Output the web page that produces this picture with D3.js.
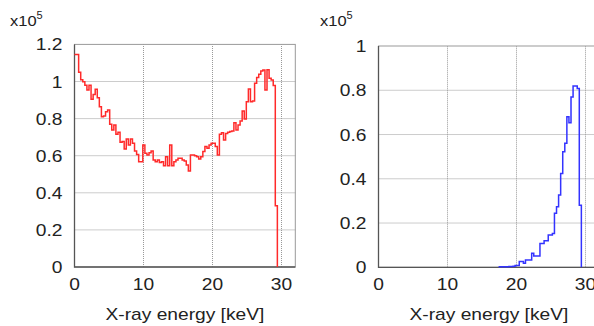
<!DOCTYPE html>
<html>
<head>
<meta charset="utf-8">
<script src="https://d3js.org/d3.v7.min.js"></script>
<style>
  body { margin: 0; background: #fff; }
  text { font-family: "Liberation Sans", Arial, sans-serif; fill: #222; }
</style>
</head>
<body>
<div id="chart"></div>
<script>
// energy bins (keV) and counts in units of 1e5
const binWidth = 0.3;
const redStart = 0;
const redCounts = [1.146, 1.146, 1.05, 1.01, 0.999, 0.98, 0.954, 0.98, 0.904, 0.93,
  0.958, 0.913, 0.864, 0.81, 0.814, 0.837, 0.846, 0.769, 0.739, 0.766,
  0.715, 0.726, 0.672, 0.676, 0.636, 0.69, 0.658, 0.69, 0.667, 0.625,
  0.607, 0.568, 0.568, 0.658, 0.613, 0.604, 0.616, 0.625, 0.577, 0.568,
  0.577, 0.564, 0.568, 0.546, 0.595, 0.546, 0.658, 0.546, 0.568, 0.577,
  0.586, 0.586, 0.577, 0.571, 0.55, 0.518, 0.604, 0.604, 0.6, 0.595,
  0.582, 0.595, 0.622, 0.649, 0.64, 0.658, 0.667, 0.667, 0.649, 0.604,
  0.715, 0.724, 0.685, 0.72, 0.726, 0.73, 0.733, 0.778, 0.739, 0.766,
  0.787, 0.841, 0.798, 0.891, 0.96, 0.891, 0.895, 0.99, 1.022, 1.039,
  1.057, 1.062, 0.954, 1.064, 1.017, 1.008, 0.978, 0.33];
const blueStart = 17.4;
const blueCounts = [0.002, 0.002, 0.003, 0.003, 0.003, 0.004, 0.004, 0.005, 0.008, 0.008,
  0.026, 0.026, 0.018, 0.033, 0.033, 0.033, 0.063, 0.051, 0.051, 0.051,
  0.108, 0.108, 0.12, 0.12, 0.146, 0.146, 0.153, 0.244, 0.274, 0.327,
  0.424, 0.522, 0.56, 0.68, 0.653, 0.77, 0.819, 0.819, 0.808, 0.28];
const xTicks = [0, 10, 20, 30];
const yTicksLeft = [0, 0.2, 0.4, 0.6, 0.8, 1, 1.2];
const yTicksRight = [0, 0.2, 0.4, 0.6, 0.8, 1];

const W = 594, H = 326;
const stretch = 1.2; // the source text is a bit wide
const svg = d3.select("#chart").append("svg")
  .attr("width", W).attr("height", H);

function label(g, x, y, txt, size, anchor) {
  return g.append("g").attr("transform", `translate(${x},${y}) scale(${stretch},1)`)
    .append("text").attr("text-anchor", anchor).attr("font-size", size).text(txt);
}

function panel(opt) {
  const x = d3.scaleLinear().domain([0, 32]).range([opt.left, opt.left + 220.8]);
  const y = d3.scaleLinear().domain([0, opt.ymax]).range([opt.bottom, opt.top]);
  const g = svg.append("g");

  // grid
  g.selectAll(".gx").data(xTicks.filter(d => d > 0)).enter().append("line")
    .attr("x1", d => x(d)).attr("x2", d => x(d))
    .attr("y1", y(0)).attr("y2", y(opt.ymax))
    .attr("stroke", "#999").attr("stroke-dasharray", "1,1");
  g.selectAll(".gy").data(opt.yTicks.filter(d => d > 0 && d < opt.ymax)).enter().append("line")
    .attr("x1", x(0)).attr("x2", x(32))
    .attr("y1", d => y(d)).attr("y2", d => y(d))
    .attr("stroke", "#999").attr("stroke-dasharray", "1,1");

  // frame
  g.append("rect")
    .attr("x", x(0)).attr("y", y(opt.ymax))
    .attr("width", x(32) - x(0)).attr("height", y(0) - y(opt.ymax))
    .attr("fill", "none").attr("stroke", "#999");
  g.append("path")
    .attr("d", `M${x(0)},${y(opt.ymax)}V${y(0)}H${x(32)}`)
    .attr("fill", "none").attr("stroke", "#555").attr("stroke-width", 1.3);

  // histogram as steps
  const pts = opt.counts.map((v, i) => [opt.start + i * binWidth, v]);
  pts.push([opt.start + opt.counts.length * binWidth, 0]);
  const line = d3.line().x(d => x(d[0])).y(d => y(d[1])).curve(d3.curveStepAfter);
  g.append("path").attr("d", line(pts))
    .attr("fill", "none").attr("stroke", opt.color).attr("stroke-width", 1.5);

  // tick labels
  xTicks.forEach(d => label(g, x(d), 290, d, 16, "middle"));
  opt.yTicks.forEach(d => label(g, opt.left - 12, y(d) + 6, d, 16, "end"));

  // exponent
  const ex = g.append("g").attr("transform", `translate(${opt.expX},26) scale(1.1,1)`)
    .append("text").attr("font-size", 15);
  ex.append("tspan").text("x10");
  ex.append("tspan").attr("dy", -7).attr("font-size", 10).text("5");

  label(g, (x(0) + x(32)) / 2, 320, "X-ray energy [keV]", 16, "middle");
}

panel({left: 74.5, top: 44.4, bottom: 267, ymax: 1.2, yTicks: yTicksLeft,
  counts: redCounts, start: redStart, color: "#ff2a2a", expX: 10});
panel({left: 378.5, top: 46, bottom: 267.3, ymax: 1, yTicks: yTicksRight,
  counts: blueCounts, start: blueStart, color: "#3333ff", expX: 320});
</script>
</body>
</html>
